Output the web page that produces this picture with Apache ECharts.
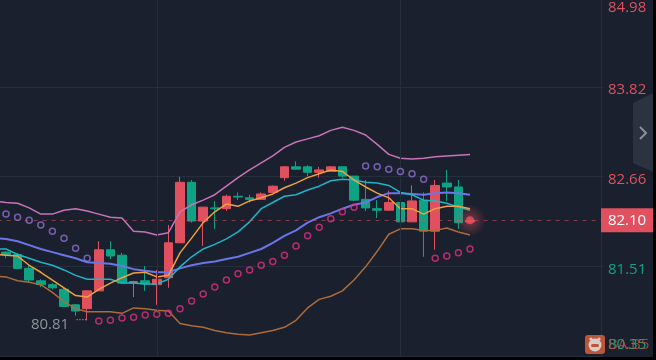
<!DOCTYPE html>
<html>
<head>
<meta charset="utf-8">
<title>K</title>
<style>
  html, body { margin: 0; padding: 0; background: #000; overflow: hidden; }
  #chart { width: 653px; height: 357px; }
</style>
<script src="https://cdn.jsdelivr.net/npm/echarts@6/dist/echarts.min.js"></script>
</head>
<body>
<div id="chart"></div>
<script>
// candles, first slot of the x axis stays empty so the lines can start off screen
const opens = [81.69,81.66,81.48,81.32,81.27,81.21,81.01,80.96,81.19,81.72,81.65,81.29,81.32,81.27,81.36,81.81,82.59,82.09,82.26,82.25,82.41,82.39,82.37,82.46,82.65,82.79,82.79,82.72,82.73,82.79,82.67,82.37,82.25,82.23,82.33,82.08,82.36,81.96,82.58,82.53,82.08];
const closes = [81.66,81.48,81.33,81.27,81.23,80.99,80.93,81.19,81.72,81.64,81.29,81.31,81.28,81.34,81.81,82.59,82.09,82.27,82.25,82.41,82.40,82.37,82.44,82.54,82.79,82.76,82.72,82.75,82.79,82.67,82.36,82.26,82.23,82.33,82.08,82.35,81.96,82.55,82.53,82.07,82.10];
const lows = [81.61,81.48,81.30,81.24,81.21,80.99,80.87,80.81,81.19,81.60,81.28,81.11,81.19,81.01,81.23,81.81,82.07,81.77,81.99,82.22,82.36,82.33,82.37,82.45,82.61,82.75,82.67,82.65,82.73,82.65,82.35,82.22,82.13,82.23,82.01,82.08,81.63,81.72,82.35,81.99,82.06];
const highs = [81.70,81.68,81.52,81.34,81.29,81.23,81.02,81.20,81.83,81.83,81.68,81.32,81.51,81.46,82.04,82.66,82.62,82.27,82.35,82.43,82.46,82.43,82.46,82.55,82.80,82.86,82.81,82.79,82.80,82.79,82.67,82.62,82.36,82.48,82.44,82.55,82.46,82.62,82.75,82.62,82.13];

// bands and averages
const upperBand = [82.35,82.33,82.32,82.26,82.18,82.18,82.23,82.25,82.22,82.18,82.14,82.13,81.96,81.95,81.91,81.94,82.21,82.30,82.36,82.43,82.54,82.65,82.75,82.84,82.93,83.04,83.11,83.15,83.19,83.26,83.30,83.26,83.20,83.08,82.95,82.90,82.89,82.90,82.92,82.93,82.94,82.95];
const lowerBand = [81.38,81.37,81.32,81.30,81.27,81.17,81.05,80.96,80.92,80.92,80.92,80.90,80.97,80.96,80.94,80.93,80.77,80.74,80.72,80.68,80.65,80.63,80.62,80.65,80.68,80.72,80.81,80.97,81.08,81.12,81.19,81.33,81.50,81.70,81.92,81.99,81.99,81.97,81.97,82.00,81.95,81.91];
const midBand = [81.87,81.86,81.83,81.78,81.73,81.69,81.65,81.61,81.56,81.55,81.54,81.51,81.47,81.45,81.43,81.43,81.48,81.52,81.55,81.57,81.60,81.63,81.68,81.73,81.81,81.90,81.97,82.07,82.14,82.19,82.25,82.30,82.33,82.40,82.45,82.45,82.44,82.43,82.45,82.46,82.45,82.43];
const slowAvg = [81.73,81.73,81.66,81.61,81.56,81.52,81.46,81.39,81.34,81.34,81.34,81.29,81.29,81.28,81.28,81.34,81.50,81.63,81.73,81.79,81.86,81.95,82.08,82.25,82.33,82.41,82.43,82.49,82.54,82.61,82.63,82.62,82.59,82.58,82.55,82.46,82.43,82.36,82.35,82.32,82.27,82.23];
const fastAvg = [81.66,81.65,81.64,81.52,81.43,81.33,81.23,81.13,81.11,81.21,81.29,81.36,81.42,81.43,81.37,81.39,81.68,81.87,82.07,82.21,82.31,82.28,82.35,82.39,82.44,82.52,82.58,82.65,82.70,82.75,82.73,82.62,82.53,82.45,82.39,82.25,82.25,82.18,82.25,82.28,82.28,82.25];

// parabolic sar dots, '-' where the dot is on the other side
const sarAbove = ['-',82.18,82.14,82.10,82.04,81.96,81.87,81.74,81.61,'-','-','-','-','-','-','-','-','-','-','-','-','-','-','-','-','-','-','-','-','-','-','-',82.80,82.79,82.76,82.73,82.70,82.63,'-','-','-','-'];
const sarBelow = ['-','-','-','-','-','-','-','-','-',80.80,80.81,80.84,80.85,80.88,80.89,80.90,80.96,81.06,81.15,81.24,81.33,81.41,81.46,81.52,81.57,81.65,81.77,81.90,82.01,82.12,82.21,82.27,'-','-','-','-','-','-',81.61,81.64,81.68,81.73];

const tickLabels = ['80.35', '81.51', '82.66', '83.82', '84.98'];
const lastPrice = 82.10;
const lastSlot = 41;
const lowSlot = 8;
const lowPrice = 80.81;
const gridSlots = [14, 35];
const slotCount = 53;

const RED = '#e0505f';
const GREEN = '#0fa385';
const GRID = '#242f3b';
const categories = Array.from({ length: slotCount }, (_, i) => String(i));

const candleData = [['-', '-', '-', '-']].concat(opens.map((o, i) => [o, closes[i], lows[i], highs[i]]));

const lineSeries = (name, data, color, width) => ({
  name: name,
  type: 'line',
  data: data,
  z: 4,
  symbol: 'none',
  smooth: false,
  lineStyle: { color: color, width: width },
});

const sarSeries = (name, data, color) => ({
  name: name,
  type: 'scatter',
  data: data,
  z: 5,
  symbol: 'circle',
  symbolSize: 6,
  itemStyle: { color: 'rgba(0,0,0,0)', borderColor: color, borderWidth: 1.5 },
});

// axis labels sit a little under their grid line, the end ones are pushed inside the frame
const tickStyle = (color, padding) => ({
  color: color,
  fontFamily: '"Open Sans"',
  fontSize: 15,
  padding: padding,
});

const chart = echarts.init(document.getElementById('chart'));
chart.setOption({
  animation: false,
  backgroundColor: '#1a202d',
  textStyle: { fontFamily: '"Open Sans"' },
  grid: { left: -11.4, top: -3, width: 614.8, height: 359, outerBoundsMode: 'none' },
  xAxis: {
    type: 'category',
    data: categories,
    axisLine: { show: false },
    axisTick: { show: false },
    axisLabel: { show: false },
    splitLine: { show: false },
  },
  yAxis: {
    type: 'value',
    position: 'right',
    offset: -2.4,
    min: 80.35,
    max: 84.98,
    interval: (84.98 - 80.35) / 4,
    axisLine: { show: true, lineStyle: { color: GRID } },
    axisTick: { show: false },
    splitLine: { show: true, lineStyle: { color: GRID, width: 1 } },
    axisLabel: {
      margin: 7,
      formatter: (v, i) => {
        const key = i === 0 ? 'low' : i === 1 ? 'green' : i === 4 ? 'top' : 'red';
        return '{' + key + '|' + tickLabels[i] + '}';
      },
      rich: {
        top: tickStyle(RED, [22, 0, 0, 0]),
        red: tickStyle(RED, [6, 0, 0, 0]),
        green: tickStyle(GREEN, [6, 0, 0, 0]),
        low: tickStyle(GREEN, [0, 0, 22, 0]),
      },
    },
  },
  series: [
    {
      name: 'slots',
      type: 'line',
      data: [],
      z: 1,
      markLine: {
        silent: true,
        symbol: ['none', 'none'],
        animation: false,
        label: { show: false },
        lineStyle: { color: GRID, width: 1, type: 'solid' },
        data: gridSlots.map((s) => ({ xAxis: s })),
      },
    },
    {
      name: 'last',
      type: 'line',
      data: [],
      z: 1,
      markLine: {
        silent: true,
        symbol: ['none', 'none'],
        animation: false,
        lineStyle: { color: 'rgba(224,80,95,0.55)', width: 1, type: [4, 5] },
        label: {
          show: true,
          position: 'end',
          distance: [23.6, 0],
          formatter: lastPrice.toFixed(2),
          color: '#fff',
          fontFamily: '"Open Sans"',
          fontSize: 15,
          backgroundColor: RED,
          width: 52,
          height: 24,
          lineHeight: 24,
          align: 'center',
        },
        data: [{ yAxis: lastPrice }],
      },
    },
    {
      name: 'k',
      type: 'candlestick',
      data: candleData,
      z: 3,
      barWidth: 9,
      itemStyle: {
        color: RED,
        color0: GREEN,
        borderColor: RED,
        borderColor0: GREEN,
        borderWidth: 1,
      },
      markPoint: {
        silent: true,
        animation: false,
        symbol: 'circle',
        symbolSize: 0,
        data: [
          {
            coord: [lowSlot, lowPrice],
            label: {
              show: true,
              position: 'left',
              distance: 18,
              offset: [0, 4],
              formatter: lowPrice.toFixed(2),
              color: '#8f939b',
              fontFamily: '"Open Sans"',
              fontSize: 15,
            },
          },
          {
            coord: [lowSlot, lowPrice],
            label: {
              show: true,
              position: 'left',
              distance: 0,
              formatter: '····',
              color: '#8f939b',
              fontSize: 11,
            },
          },
        ],
      },
    },
    lineSeries('upper', upperBand, '#c873b9', 1.5),
    lineSeries('lower', lowerBand, '#ad6a3b', 1.5),
    lineSeries('mid', midBand, '#6b75ea', 2),
    lineSeries('slow', slowAvg, '#1fb4c8', 1.5),
    lineSeries('fast', fastAvg, '#f0a040', 1.5),
    sarSeries('sarAbove', sarAbove, '#8e6fd0'),
    sarSeries('sarBelow', sarBelow, '#e0307f'),
    {
      name: 'glow',
      type: 'scatter',
      z: 6,
      symbolSize: 32,
      data: [[lastSlot, lastPrice]],
      itemStyle: {
        color: {
          type: 'radial', x: 0.5, y: 0.5, r: 0.5,
          colorStops: [
            { offset: 0, color: 'rgba(224,80,95,0.6)' },
            { offset: 1, color: 'rgba(224,80,95,0)' },
          ],
        },
      },
    },
    {
      name: 'dot',
      type: 'scatter',
      z: 7,
      symbolSize: 8,
      data: [[lastSlot, lastPrice]],
      itemStyle: { color: '#ea4f5e' },
    },
  ],
  graphic: [
    // collapse handle
    {
      type: 'polygon',
      z: 20,
      shape: { points: [[653, 93], [633, 103], [633, 163], [653, 172]] },
      style: { fill: '#2c3340' },
    },
    {
      type: 'polyline',
      z: 21,
      shape: { points: [[640, 127], [646, 133], [640, 139]] },
      style: { stroke: '#8a8f9a', lineWidth: 2, fill: null },
    },
    // watermark
    {
      type: 'rect',
      z: 20,
      shape: { x: 585, y: 335, width: 20, height: 19, r: 3 },
      style: { fill: '#bf5439' },
    },
    { type: 'circle', z: 21, shape: { cx: 591, cy: 339, r: 1.6 }, style: { fill: '#d8cdc8' } },
    { type: 'circle', z: 21, shape: { cx: 599, cy: 339, r: 1.6 }, style: { fill: '#d8cdc8' } },
    { type: 'circle', z: 21, shape: { cx: 595, cy: 345, r: 6.5 }, style: { fill: '#d8cdc8' } },
    { type: 'rect', z: 22, shape: { x: 591, y: 344, width: 8, height: 3, r: 1.5 }, style: { fill: '#bf5439' } },
    {
      type: 'text',
      z: 21,
      x: 608,
      y: 337,
      style: { text: 'BA.B5', fill: 'rgba(192,84,60,0.8)', font: '15px "Open Sans"' },
    },
  ],
});
</script>
</body>
</html>
